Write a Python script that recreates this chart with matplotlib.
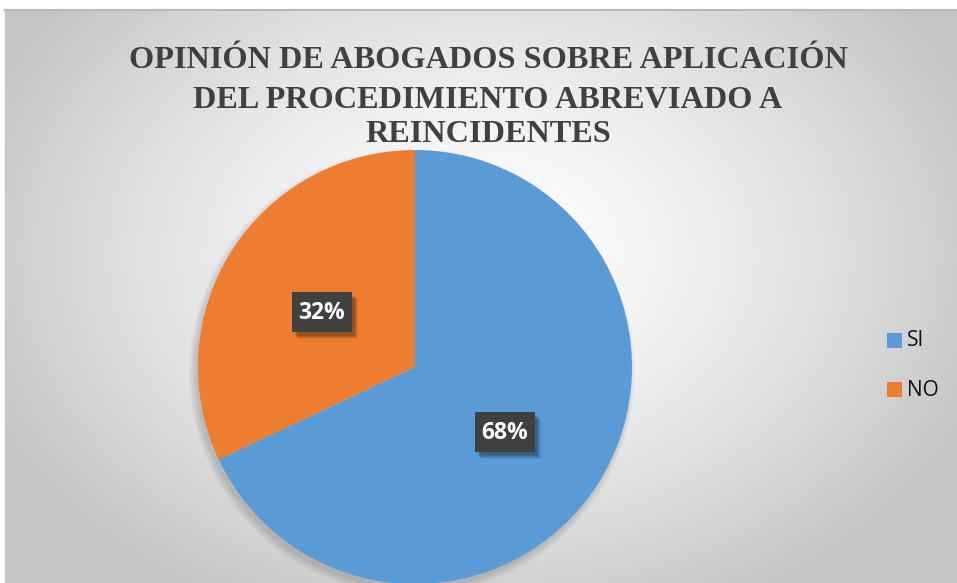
import matplotlib
matplotlib.use("Agg")
import matplotlib.pyplot as plt
import numpy as np
from matplotlib.patches import Rectangle, Circle

# data
categorias = ["SI", "NO"]
porcentajes = [68, 32]
colores = ["#5B9BD5", "#ED7D31"]
titulo = ["OPINIÓN DE ABOGADOS SOBRE APLICACIÓN",
          "DEL PROCEDIMIENTO ABREVIADO A",
          "REINCIDENTES"]

W, H = 957, 583
fig = plt.figure(figsize=(W / 100, H / 100), dpi=100)
fig.patch.set_facecolor("white")

# background with radial gradient (pixel coords, y up)
bg = fig.add_axes([0, 0, 1, 1])
bg.set_xlim(0, W)
bg.set_ylim(0, H)
bg.axis("off")
xx, yy = np.meshgrid(np.linspace(5, W, 400), np.linspace(0, H - 10, 250))
d = np.sqrt(((xx - 480) / 540) ** 2 + ((yy - 330) / 400) ** 2)
d = np.clip(d, 0, 1)
g = 1.0 - 0.23 * d ** 1.4
bg.imshow(np.dstack([g, g, g]), extent=(5, W, 0, H - 10), origin="lower",
          aspect="auto", zorder=0, interpolation="bilinear")
bg.plot([5, W], [H - 10, H - 10], color="#b8b8b8", lw=1.5, zorder=1)
bg.plot([5, 5], [0, H - 10], color="#c8c8c8", lw=1.0, zorder=1)

# title
for linea, ybase in zip(titulo, [515, 475, 441]):
    bg.text(488, ybase, linea, ha="center", va="baseline",
            fontsize=23.2, fontweight="bold", family="Liberation Serif",
            color="#404040", zorder=3)

# pie shadow
cx, cy, r = 415, H - 367, 217
for k in range(8):
    bg.add_patch(Circle((cx - 3, cy - 5), r + 6 - k, color="black",
                        alpha=0.02, lw=0, zorder=2))

# pie
ax = fig.add_axes([(cx - r) / W, (cy - r) / H, 2 * r / W, 2 * r / H])
ax.set_zorder(5)
ax.patch.set_alpha(0)
wedges, _ = ax.pie(porcentajes, colors=colores, startangle=90,
                   counterclock=False, radius=1.0,
                   wedgeprops=dict(linewidth=0))
ax.set_xlim(-1, 1)
ax.set_ylim(-1, 1)
ax.set_aspect("equal")

# data labels with dark boxes and shadow
lab_ax = fig.add_axes([0, 0, 1, 1])
lab_ax.set_zorder(6)
lab_ax.patch.set_alpha(0)
lab_ax.set_xlim(0, W)
lab_ax.set_ylim(0, H)
lab_ax.axis("off")
posiciones = [(505, H - 432), (322, H - 312)]
for p, (px, py) in zip(porcentajes, posiciones):
    bw, bh = 60, 40
    for k in range(6):
        lab_ax.add_patch(Rectangle((px - bw / 2 + 2 + k * 0.8, py - bh / 2 - 3 - k * 0.8),
                                   bw, bh, color="black", alpha=0.07, lw=0))
    lab_ax.add_patch(Rectangle((px - bw / 2, py - bh / 2), bw, bh,
                               color="#404040", lw=0))
    lab_ax.text(px, py - 1, f"{p}%", ha="center", va="center", color="white",
                fontsize=16.5, fontweight="bold", family="Open Sans")

# legend
for cat, col, ly in zip(categorias, colores, [H - 341, H - 390]):
    lab_ax.add_patch(Rectangle((887, ly - 7), 15, 15, color=col, lw=0))
    lab_ax.text(907, ly, cat, ha="left", va="center", fontsize=15,
                family="Open Sans", color="#111111")

fig.savefig("out.png", dpi=100)
